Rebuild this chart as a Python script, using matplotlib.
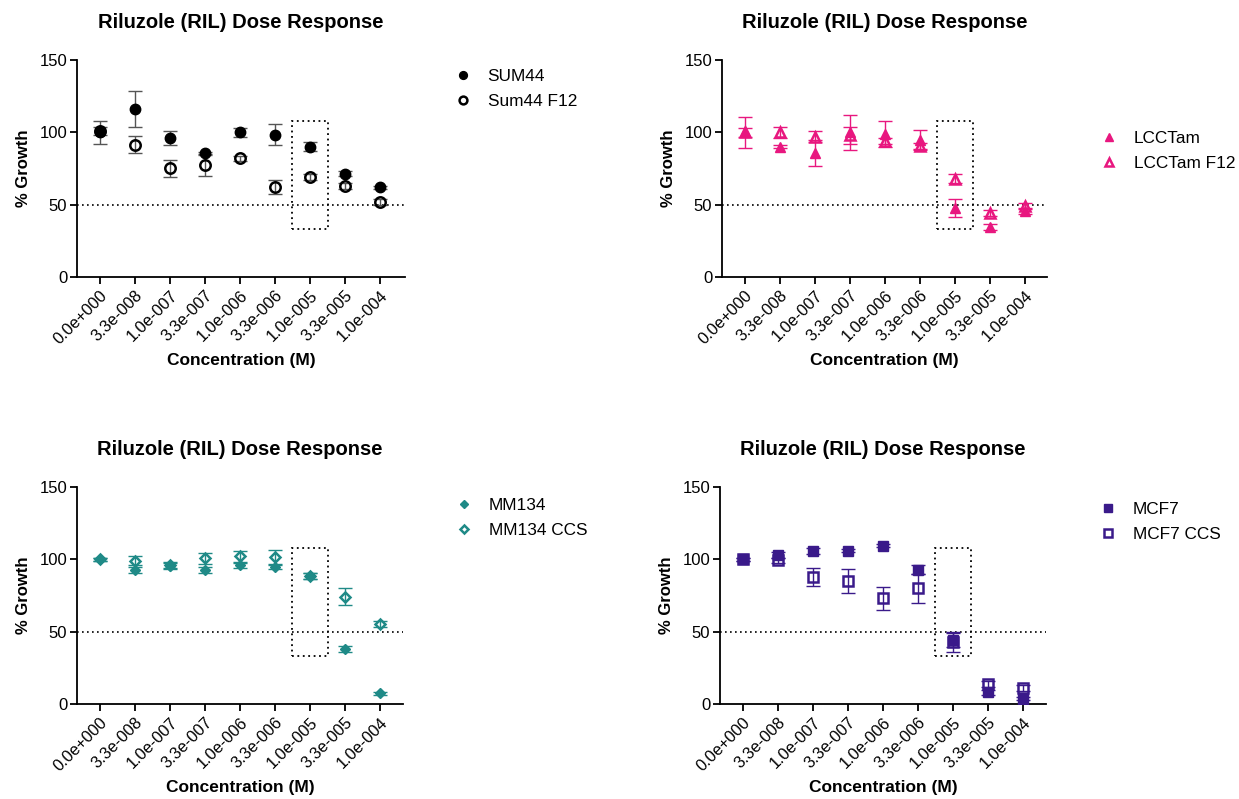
import matplotlib
matplotlib.use("Agg")
import matplotlib.pyplot as plt
from matplotlib.patches import Rectangle
import numpy as np

plt.rcParams['font.family'] = ['Liberation Sans', 'DejaVu Sans']

conc_labels = ["0.0e+000", "3.3e-008", "1.0e-007", "3.3e-007", "1.0e-006",
               "3.3e-006", "1.0e-005", "3.3e-005", "1.0e-004"]

# Panel 1: SUM44
sum44 = [100, 116, 96, 85.4, 100, 98.5, 90, 71.5, 62]
sum44_err = [8, 12.5, 5, 1, 3, 7, 3, 1.5, 1]
sum44f12 = [101, 91.4, 75.2, 77.5, 82, 62.3, 69, 63, 51.7]
sum44f12_err = [3, 6, 6, 7.5, 1.5, 5, 2, 2, 2]

# Panel 2: LCCTam
lcc = [100, 90, 86, 100, 99, 94.6, 47.8, 34.6, 45.7]
lcc_err = [10.5, 1, 9, 12, 9, 7, 6, 2, 2]
lccf12 = [100, 100, 97, 98, 94, 90.5, 68, 44, 49]
lccf12_err = [3, 4, 4, 6, 2, 2, 3, 2, 2]

# Panel 3: MM134
mm = [100, 92.8, 95.5, 92.8, 95.8, 95, 88.4, 38, 7.4]
mm_err = [1, 2, 2, 2, 2, 2, 2, 2, 1]
mmccs = [100, 99, 96, 100.6, 102, 101.3, 88.6, 74.3, 55.4]
mmccs_err = [1, 3, 2, 4, 4, 5, 2, 6, 2]

# Panel 4: MCF7
mcf = [100, 103, 106, 106, 109.4, 92.8, 44.3, 8, 3.7]
mcf_err = [1, 2, 2, 1, 1, 3, 5, 2, 1]
mcfccs = [100, 99.2, 87.7, 85, 73, 80, 43, 13.6, 10.8]
mcfccs_err = [1, 2, 6, 8, 8, 10, 7, 2, 2]

BLACK = "#000000"
PINK = "#E8177F"
TEAL = "#1F8A87"
PURPLE = "#3A1A8A"

W, H = 1239, 799
fig = plt.figure(figsize=(W / 100, H / 100), dpi=100)

def fx(px):
    return px / W

def fy(py):
    return 1 - py / H

panels = [
    dict(rect=(77, 60, 405, 277), xpad=(-0.657, 8.714),
         s1=(sum44, sum44_err, "SUM44"), s2=(sum44f12, sum44f12_err, "Sum44 F12"),
         color=BLACK, ecolor="#555555", marker="o", ms=7.5, leg=(454, 80)),
    dict(rect=(722, 60, 1047, 277), xpad=(-0.657, 8.63),
         s1=(lcc, lcc_err, "LCCTam"), s2=(lccf12, lccf12_err, "LCCTam F12"),
         color=PINK, ecolor=PINK, marker="^", ms=7.5, leg=(1100, 142)),
    dict(rect=(77, 487, 403, 704), xpad=(-0.657, 8.66),
         s1=(mm, mm_err, "MM134"), s2=(mmccs, mmccs_err, "MM134 CCS"),
         color=TEAL, ecolor=TEAL, marker="D", ms=5.5, leg=(455, 509)),
    dict(rect=(720, 487, 1046, 704), xpad=(-0.657, 8.66),
         s1=(mcf, mcf_err, "MCF7"), s2=(mcfccs, mcfccs_err, "MCF7 CCS"),
         color=PURPLE, ecolor=PURPLE, marker="s", ms=7.5, leg=(1099, 513)),
]

x = np.arange(len(conc_labels))

for p in panels:
    l, t, r, b = p["rect"]
    ax = fig.add_axes([fx(l), fy(b), (r - l) / W, (b - t) / H])
    c = p["color"]
    y2, e2, lab2 = p["s2"]
    ax.errorbar(x, y2, yerr=e2, fmt="none", ecolor=p["ecolor"], elinewidth=1.0,
                capsize=5, capthick=1.0, zorder=3)
    y1, e1, lab1 = p["s1"]
    ax.errorbar(x, y1, yerr=e1, fmt="none", ecolor=p["ecolor"], elinewidth=1.0,
                capsize=5, capthick=1.0, zorder=3)
    ax.plot(x, y2, linestyle="none", marker=p["marker"], ms=p["ms"],
            mfc="none", mec=c, mew=1.8, label=lab2, zorder=4)
    ax.plot(x, y1, linestyle="none", marker=p["marker"], ms=p["ms"],
            mfc=c, mec=c, mew=1.0, label=lab1, zorder=5)

    ax.axhline(50, color="black", linestyle=(0, (1, 2)), linewidth=1.2, zorder=2)
    ax.add_patch(Rectangle((5.49, 33.5), 1.02, 74.5, fill=False, edgecolor="black",
                           linestyle=(0, (1, 2)), linewidth=1.3, zorder=2))

    ax.set_xlim(*p["xpad"])
    ax.set_ylim(0, 150)
    ax.set_yticks([0, 50, 100, 150])
    ax.set_xticks(x)
    ax.set_xticklabels(conc_labels, rotation=45, ha="right", rotation_mode="anchor")
    for s in ["top", "right"]:
        ax.spines[s].set_visible(False)
    for s in ["left", "bottom"]:
        ax.spines[s].set_linewidth(1.3)
    ax.tick_params(axis="both", direction="out", length=5, width=1.3)
    ax.tick_params(axis="y", pad=2, labelsize=12)
    ax.tick_params(axis="x", pad=3, labelsize=11.8)
    ax.set_ylabel("% Growth", fontsize=12, fontweight="bold", labelpad=6)
    ax.set_xlabel("Concentration (M)", fontsize=12.5, fontweight="bold", labelpad=4)
    ax.set_title("Riluzole (RIL) Dose Response", fontsize=14.5, fontweight="bold", pad=23)

    h, labs = ax.get_legend_handles_labels()
    order = [1, 0]
    lx, ly = p["leg"]
    ax.legend([h[i] for i in order], [labs[i] for i in order],
              loc="upper left", bbox_to_anchor=(fx(lx), fy(ly - 11)),
              bbox_transform=fig.transFigure, frameon=False, fontsize=12.4,
              handlelength=1.1, handletextpad=0.85, borderpad=0, borderaxespad=0,
              labelspacing=0.55, markerscale=0.75)

fig.savefig("out.png", dpi=100)
